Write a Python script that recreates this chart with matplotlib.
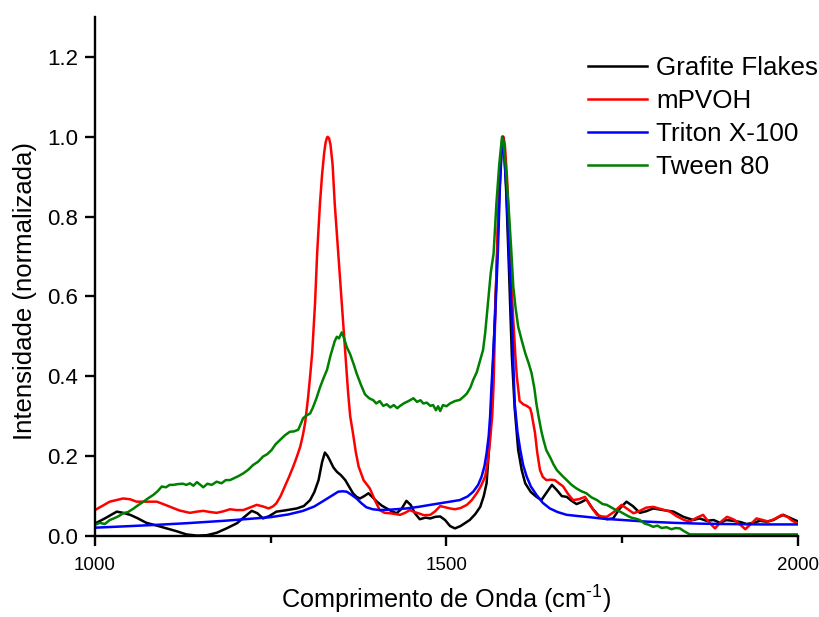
import numpy as np
import matplotlib
matplotlib.use('Agg')
import matplotlib.pyplot as plt
from matplotlib.ticker import FixedLocator, FormatStrFormatter

# Raman spectra, normalized intensity vs. Raman shift (cm-1)
gf_x = [1000, 1002, 1015, 1031, 1040, 1050, 1060, 1073, 1088, 1102, 1116, 1130, 1145, 1159, 1173,
        1187, 1202, 1212, 1223, 1231, 1239, 1248, 1258, 1270, 1287, 1297, 1306, 1312, 1318, 1323,
        1327, 1331, 1334, 1339, 1344, 1350, 1356, 1362, 1367, 1372, 1377, 1383, 1389, 1395, 1401,
        1408, 1415, 1422, 1429, 1436, 1443, 1449, 1455, 1462, 1470, 1477, 1484, 1491, 1498, 1505,
        1512, 1520, 1533, 1541, 1548, 1553, 1557, 1562, 1566, 1571, 1575, 1578, 1580, 1582, 1585,
        1589, 1593, 1597, 1602, 1607, 1612, 1620, 1628, 1635, 1642, 1650, 1657, 1664, 1671, 1678,
        1685, 1692, 1699, 1708, 1718, 1728, 1737, 1746, 1756, 1765, 1775, 1784, 1794, 1808, 1823,
        1837, 1851, 1860, 1870, 1880, 1889, 1898, 1908, 1918, 1927, 1936, 1946, 1955, 1965, 1972,
        1979, 1988, 1998, 2000]
gf_y = [0.030, 0.033, 0.045, 0.061, 0.058, 0.053, 0.045, 0.033, 0.026, 0.019, 0.012, 0.004, 0.001, 0.002, 0.008,
        0.019, 0.032, 0.047, 0.063, 0.057, 0.044, 0.050, 0.061, 0.064, 0.069, 0.075, 0.090, 0.110, 0.140, 0.185,
        0.209, 0.200, 0.190, 0.172, 0.161, 0.152, 0.140, 0.122, 0.107, 0.098, 0.094, 0.100, 0.107, 0.097, 0.086,
        0.076, 0.069, 0.062, 0.057, 0.068, 0.088, 0.078, 0.057, 0.042, 0.046, 0.044, 0.048, 0.049, 0.040, 0.025,
        0.019, 0.025, 0.040, 0.055, 0.073, 0.100, 0.132, 0.257, 0.420, 0.650, 0.850, 0.960, 1.000, 0.970, 0.860,
        0.660, 0.450, 0.320, 0.215, 0.165, 0.132, 0.110, 0.098, 0.090, 0.108, 0.128, 0.115, 0.100, 0.098, 0.088,
        0.080, 0.085, 0.092, 0.068, 0.048, 0.042, 0.044, 0.068, 0.086, 0.075, 0.058, 0.062, 0.069, 0.065, 0.061,
        0.048, 0.040, 0.044, 0.038, 0.040, 0.033, 0.040, 0.038, 0.035, 0.030, 0.033, 0.038, 0.036, 0.040, 0.047,
        0.053, 0.046, 0.038, 0.037]

pvoh_x = [1000, 1002, 1021, 1040, 1050, 1059, 1075, 1088, 1097, 1107, 1120, 1135, 1145, 1154, 1164,
          1173, 1183, 1192, 1201, 1211, 1220, 1230, 1239, 1247, 1253, 1258, 1264, 1270, 1276, 1282,
          1287, 1292, 1296, 1299, 1303, 1306, 1309, 1313, 1316, 1320, 1323, 1326, 1328, 1330, 1331,
          1333, 1335, 1338, 1341, 1346, 1351, 1356, 1360, 1363, 1367, 1371, 1375, 1382, 1391, 1398,
          1405, 1412, 1420, 1427, 1434, 1441, 1448, 1454, 1460, 1468, 1477, 1484, 1491, 1498, 1505,
          1512, 1520, 1529, 1536, 1543, 1549, 1555, 1559, 1562, 1565, 1567, 1570, 1573, 1576, 1579,
          1581, 1583, 1586, 1589, 1592, 1595, 1598, 1600, 1604, 1609, 1614, 1619, 1621, 1626, 1629,
          1633, 1637, 1642, 1648, 1654, 1660, 1666, 1673, 1680, 1688, 1697, 1705, 1714, 1721, 1728,
          1738, 1749, 1757, 1766, 1775, 1784, 1794, 1806, 1818, 1827, 1838, 1846, 1855, 1865, 1873,
          1882, 1890, 1899, 1905, 1910, 1918, 1925, 1933, 1941, 1950, 1958, 1968, 1977, 1985, 1992,
          1998, 2000]
pvoh_y = [0.065, 0.067, 0.086, 0.094, 0.092, 0.086, 0.086, 0.086, 0.080, 0.073, 0.064, 0.058, 0.061, 0.063, 0.060,
          0.058, 0.062, 0.067, 0.065, 0.065, 0.071, 0.078, 0.074, 0.069, 0.074, 0.082, 0.100, 0.124, 0.148, 0.174,
          0.198, 0.224, 0.255, 0.285, 0.345, 0.400, 0.460, 0.583, 0.708, 0.833, 0.905, 0.960, 0.985, 0.998, 1.000,
          0.996, 0.980, 0.930, 0.833, 0.708, 0.583, 0.458, 0.360, 0.300, 0.257, 0.210, 0.174, 0.140, 0.119, 0.090,
          0.065, 0.058, 0.057, 0.055, 0.053, 0.058, 0.065, 0.060, 0.057, 0.052, 0.053, 0.062, 0.075, 0.072, 0.069,
          0.067, 0.070, 0.078, 0.090, 0.107, 0.125, 0.149, 0.190, 0.240, 0.300, 0.380, 0.600, 0.780, 0.920, 0.990,
          1.000, 0.980, 0.900, 0.780, 0.640, 0.541, 0.450, 0.400, 0.338, 0.330, 0.326, 0.320, 0.307, 0.257, 0.210,
          0.165, 0.148, 0.140, 0.141, 0.140, 0.132, 0.124, 0.105, 0.090, 0.092, 0.098, 0.075, 0.053, 0.049, 0.048,
          0.060, 0.078, 0.068, 0.057, 0.063, 0.071, 0.073, 0.067, 0.061, 0.050, 0.040, 0.036, 0.045, 0.053, 0.035,
          0.019, 0.035, 0.048, 0.044, 0.040, 0.028, 0.017, 0.030, 0.044, 0.040, 0.036, 0.044, 0.053, 0.048, 0.038,
          0.033, 0.032]

triton_x = [1000, 1002, 1040, 1088, 1130, 1183, 1220, 1249, 1275, 1296, 1312, 1325, 1336, 1346, 1352,
            1358, 1365, 1372, 1379, 1386, 1395, 1405, 1420, 1443, 1460, 1477, 1491, 1505, 1519, 1530,
            1538, 1545, 1550, 1554, 1557, 1560, 1562, 1564, 1569, 1573, 1576, 1578, 1580, 1582, 1585,
            1589, 1593, 1597, 1601, 1605, 1609, 1614, 1620, 1628, 1637, 1647, 1658, 1671, 1687, 1704,
            1725, 1751, 1785, 1823, 1860, 1894, 1950, 2000]
triton_y = [0.020, 0.021, 0.024, 0.028, 0.032, 0.038, 0.043, 0.047, 0.054, 0.063, 0.074, 0.088, 0.100, 0.111, 0.112,
            0.111, 0.103, 0.094, 0.082, 0.072, 0.067, 0.065, 0.066, 0.069, 0.073, 0.078, 0.082, 0.086, 0.090, 0.099,
            0.111, 0.128, 0.149, 0.175, 0.207, 0.250, 0.299, 0.374, 0.541, 0.708, 0.875, 0.950, 1.000, 0.960, 0.875,
            0.708, 0.541, 0.332, 0.260, 0.215, 0.178, 0.149, 0.124, 0.103, 0.083, 0.069, 0.060, 0.053, 0.050, 0.047,
            0.043, 0.040, 0.036, 0.033, 0.031, 0.030, 0.029, 0.029]

tween_x = [1000, 1007, 1014, 1021, 1028, 1034, 1040, 1047, 1055, 1062, 1069, 1076, 1083, 1089, 1095,
           1101, 1106, 1111, 1118, 1125, 1130, 1135, 1140, 1145, 1150, 1154, 1160, 1166, 1173, 1180,
           1186, 1192, 1198, 1204, 1211, 1218, 1225, 1232, 1239, 1245, 1251, 1257, 1263, 1270, 1277,
           1283, 1289, 1293, 1296, 1301, 1306, 1310, 1315, 1320, 1325, 1330, 1335, 1341, 1344, 1347,
           1351, 1354, 1358, 1363, 1368, 1372, 1378, 1384, 1390, 1396, 1400, 1405, 1410, 1415, 1420,
           1425, 1430, 1434, 1440, 1446, 1453, 1458, 1463, 1467, 1472, 1477, 1481, 1485, 1488, 1491,
           1495, 1500, 1505, 1512, 1519, 1525, 1529, 1534, 1538, 1543, 1548, 1552, 1555, 1559, 1563,
           1567, 1571, 1575, 1579, 1581, 1584, 1588, 1592, 1595, 1598, 1602, 1607, 1612, 1617, 1621,
           1625, 1628, 1631, 1635, 1638, 1642, 1648, 1652, 1657, 1664, 1671, 1678, 1685, 1692, 1699,
           1706, 1714, 1722, 1728, 1733, 1740, 1746, 1751, 1758, 1763, 1770, 1775, 1782, 1788, 1794,
           1800, 1806, 1813, 1820, 1826, 1832, 1838, 1844, 1846, 2000]
tween_y = [0.028, 0.033, 0.030, 0.040, 0.045, 0.050, 0.057, 0.060, 0.069, 0.078, 0.086, 0.095, 0.103, 0.112, 0.124,
           0.122, 0.128, 0.128, 0.130, 0.131, 0.128, 0.132, 0.126, 0.135, 0.128, 0.122, 0.131, 0.128, 0.136, 0.132,
           0.140, 0.140, 0.145, 0.150, 0.157, 0.166, 0.178, 0.186, 0.199, 0.205, 0.215, 0.230, 0.240, 0.252, 0.261,
           0.262, 0.266, 0.282, 0.295, 0.302, 0.307, 0.322, 0.345, 0.372, 0.395, 0.416, 0.452, 0.488, 0.499, 0.495,
           0.510, 0.497, 0.474, 0.455, 0.430, 0.408, 0.380, 0.355, 0.345, 0.340, 0.332, 0.338, 0.326, 0.330, 0.322,
           0.328, 0.320, 0.326, 0.333, 0.338, 0.345, 0.336, 0.340, 0.332, 0.334, 0.326, 0.328, 0.315, 0.325, 0.313,
           0.328, 0.325, 0.332, 0.338, 0.341, 0.350, 0.357, 0.372, 0.391, 0.410, 0.441, 0.466, 0.508, 0.583, 0.660,
           0.708, 0.833, 0.930, 1.000, 0.990, 0.930, 0.833, 0.720, 0.625, 0.575, 0.524, 0.490, 0.458, 0.432, 0.408,
           0.370, 0.330, 0.299, 0.262, 0.240, 0.215, 0.195, 0.180, 0.165, 0.152, 0.140, 0.128, 0.119, 0.112, 0.107,
           0.097, 0.090, 0.080, 0.078, 0.073, 0.066, 0.062, 0.057, 0.050, 0.046, 0.043, 0.040, 0.031, 0.028, 0.023,
           0.026, 0.020, 0.022, 0.017, 0.020, 0.019, 0.012, 0.006, 0.004, 0.004]

labels = ['Grafite Flakes', 'mPVOH', 'Triton X-100', 'Tween 80']
colors = ['black', 'red', 'blue', 'green']

plt.rcParams['font.family'] = ['Liberation Sans', 'DejaVu Sans']
plt.rcParams['mathtext.fontset'] = 'custom'
plt.rcParams['mathtext.rm'] = 'Liberation Sans'
plt.rcParams['mathtext.default'] = 'regular'

fig = plt.figure(figsize=(8.2, 6.17), dpi=100)
ax = fig.add_axes([95/820, 81/617, 703/820, 519/617])

series = [(gf_x, gf_y), (pvoh_x, pvoh_y), (triton_x, triton_y), (tween_x, tween_y)]
for (xs, ys), lab, c in zip(series, labels, colors):
    ax.plot(xs, ys, color=c, lw=1.8, label=lab)

ax.set_xlim(1000, 2000)
ax.set_ylim(0, 1.3)
ax.xaxis.set_major_locator(FixedLocator([1000, 1500, 2000]))
ax.xaxis.set_minor_locator(FixedLocator([1250, 1750]))
ax.yaxis.set_major_locator(FixedLocator([0, 0.2, 0.4, 0.6, 0.8, 1.0, 1.2]))
ax.yaxis.set_major_formatter(FormatStrFormatter('%.1f'))

for s in ['top', 'right']:
    ax.spines[s].set_visible(False)
for s in ['left', 'bottom']:
    ax.spines[s].set_linewidth(1.7)

ax.tick_params(axis='both', which='major', direction='out', length=7, width=1.7)
ax.tick_params(axis='x', which='minor', direction='out', length=5, width=1.7)
ax.tick_params(axis='x', which='major', labelsize=13.5, pad=8)
ax.tick_params(axis='y', which='major', labelsize=16, pad=5)

fig.text(446.5/820, 1 - 609/617, r'Comprimento de Onda (cm$^{\text{-1}}$)',
         ha='center', va='baseline', fontsize=18.2)
fig.text(25/820, 1 - 291/617, 'Intensidade (normalizada)', rotation=90,
         ha='center', va='center', fontsize=18.5)

ax.legend(loc='upper left', bbox_to_anchor=(588/820, 1 - 56/617), bbox_transform=fig.transFigure,
          frameon=False, fontsize=18.7, borderpad=0, borderaxespad=0,
          handlelength=2.27, handletextpad=0.35, labelspacing=0.35)

fig.savefig('out.png', dpi=100)
